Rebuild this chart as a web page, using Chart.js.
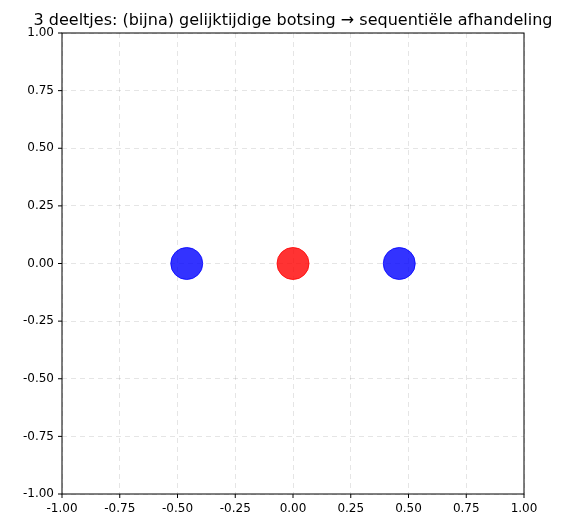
<!DOCTYPE html>
<html><head><meta charset="utf-8">
<script src="https://cdn.jsdelivr.net/npm/chart.js@4"></script>
<style>body{margin:0;background:#fff}</style></head>
<body><canvas id="c" width="572" height="528"></canvas>
<script>
const titleText = "3 deeltjes: (bijna) gelijktijdige botsing → sequentiële afhandeling";
const xs = [-0.46, 0.0, 0.46];
const ys = [0.0, 0.0, 0.0];
const colors = ["rgba(0,0,255,0.8)", "rgba(255,0,0,0.8)", "rgba(0,0,255,0.8)"];
const tickVals = [-1, -0.75, -0.5, -0.25, 0, 0.25, 0.5, 0.75, 1];

const frame = {
  id: 'frame',
  afterDraw(ch) {
    const c = ch.ctx, a = ch.chartArea;
    c.save(); c.setLineDash([]); c.strokeStyle = '#000'; c.lineWidth = 1;
    c.strokeRect(a.left, a.top, a.right - a.left, a.bottom - a.top);
    tickVals.forEach(v => {
      const x = ch.scales.x.getPixelForValue(v), y = ch.scales.y.getPixelForValue(v);
      c.beginPath(); c.moveTo(x, a.bottom); c.lineTo(x, a.bottom + 4); c.stroke();
      c.beginPath(); c.moveTo(a.left, y); c.lineTo(a.left - 4, y); c.stroke();
    });
    c.fillStyle = '#000'; c.font = '16px "DejaVu Sans"'; c.textAlign = 'center'; c.textBaseline = 'alphabetic';
    c.fillText(titleText, (a.left + a.right) / 2, a.top - 8);
    c.restore();
  }
};

const axisCommon = {
  type: 'linear', min: -1, max: 1,
  grid: { color: 'rgba(0,0,0,0.1)', drawTicks: false },
  border: { display: false, dash: [5, 4] },
  ticks: { stepSize: 0.25, color: '#000', font: { family: 'DejaVu Sans', size: 12 }, padding: 8,
    callback: v => Number(v).toFixed(2) }
};

new Chart(document.getElementById('c'), {
  type: 'scatter',
  data: { datasets: [{
    data: xs.map((x, i) => ({ x, y: ys[i] })),
    backgroundColor: colors, borderColor: colors, pointRadius: 16, pointHoverRadius: 16
  }]},
  options: {
    responsive: false, animation: false, events: [],
    layout: { padding: { left: 0, right: 48, top: 33, bottom: 0 } },
    plugins: { legend: { display: false }, tooltip: { enabled: false }, title: { display: false } },
    scales: {
      x: { ...axisCommon, afterFit: s => { s.height = 34; } },
      y: { ...axisCommon, afterFit: s => { s.width = 62; } }
    }
  },
  plugins: [frame]
});
</script>
</body></html>
